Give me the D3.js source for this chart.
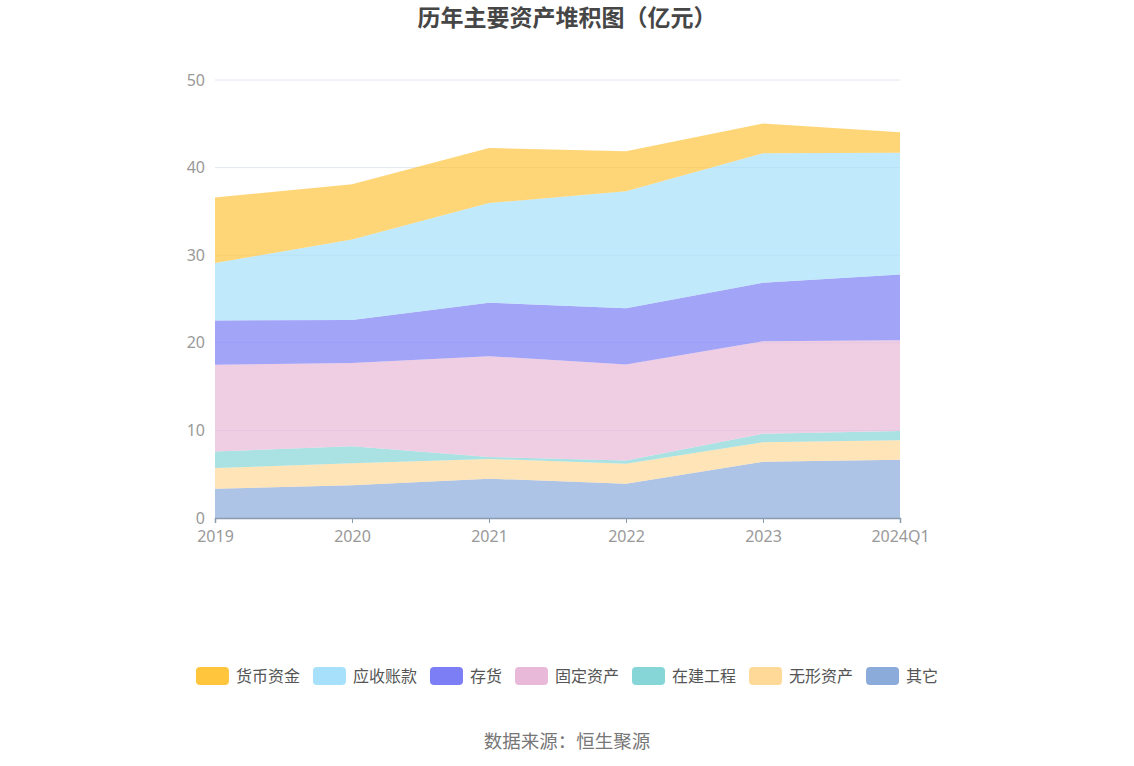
<!DOCTYPE html>
<html>
<head>
<meta charset="utf-8">
<script src="https://cdn.jsdelivr.net/npm/d3@7"></script>
<style>
  html, body { margin: 0; padding: 0; background: #fff; }
  svg { font-family: "Noto Sans CJK SC", "Noto Sans", sans-serif; }
</style>
</head>
<body>
<div id="chart"></div>
<script>
// categories on the x axis
const years = ["2019", "2020", "2021", "2022", "2023", "2024Q1"];

// series values (亿元), bottom of the stack first
const qita = [3.35, 3.73, 4.49, 3.92, 6.43, 6.66];        // 其它
const wuxing = [2.35, 2.51, 2.25, 2.28, 2.21, 2.21];      // 无形资产
const zaijian = [1.88, 1.95, 0.23, 0.35, 0.99, 1.07];     // 在建工程
const guding = [9.92, 9.51, 11.5, 10.97, 10.55, 10.36];   // 固定资产
const cunhuo = [5.05, 4.9, 6.1, 6.43, 6.68, 7.5];         // 存货
const yingshou = [6.55, 9.2, 11.38, 13.35, 14.77, 13.9];  // 应收账款
const huobi = [7.5, 6.3, 6.29, 4.56, 3.4, 2.33];          // 货币资金

const yTicks = [0, 10, 20, 30, 40, 50];

// legend order (top to bottom of the stack)
const series = [
  {key: "huobi", name: "货币资金", color: "#ffc53d", values: huobi},
  {key: "yingshou", name: "应收账款", color: "#a6e0fb", values: yingshou},
  {key: "cunhuo", name: "存货", color: "#7b7ef5", values: cunhuo},
  {key: "guding", name: "固定资产", color: "#e8b9d9", values: guding},
  {key: "zaijian", name: "在建工程", color: "#86d6d8", values: zaijian},
  {key: "wuxing", name: "无形资产", color: "#ffd998", values: wuxing},
  {key: "qita", name: "其它", color: "#8babdb", values: qita}
];

const width = 1134;
const height = 766;
const plotLeft = 215, plotRight = 900, plotTop = 80, plotBottom = 518;

const rows = years.map((yr, i) => {
  const r = {year: yr};
  series.forEach(s => { r[s.key] = s.values[i]; });
  return r;
});

const svg = d3.select("#chart")
  .append("svg")
  .attr("width", width)
  .attr("height", height);

const x = d3.scalePoint()
  .domain(years)
  .range([plotLeft, plotRight]);

const y = d3.scaleLinear()
  .domain([0, 50])
  .range([plotBottom, plotTop]);

// title
svg.append("text")
  .attr("x", width / 2)
  .attr("y", 26)
  .attr("text-anchor", "middle")
  .attr("font-size", 23)
  .attr("font-weight", "bold")
  .attr("fill", "#464646")
  .text("历年主要资产堆积图（亿元）");

// gridlines
svg.append("g")
  .selectAll("line")
  .data(yTicks.filter(d => d > 0))
  .enter()
  .append("line")
  .attr("x1", plotLeft)
  .attr("x2", plotRight)
  .attr("y1", d => y(d))
  .attr("y2", d => y(d))
  .attr("stroke", "#e0e6f1")
  .attr("stroke-width", 1);

// stacked areas
const stackOrder = series.map(s => s.key).reverse();
const stacked = d3.stack().keys(stackOrder)(rows);
const colorOf = {};
series.forEach(s => { colorOf[s.key] = s.color; });

const area = d3.area()
  .x(d => x(d.data.year))
  .y0(d => y(d[0]))
  .y1(d => y(d[1]));

svg.append("g")
  .selectAll("path")
  .data(stacked)
  .enter()
  .append("path")
  .attr("d", area)
  .attr("fill", d => colorOf[d.key])
  .attr("fill-opacity", 0.7);

// y axis labels
const yAxis = svg.append("g")
  .attr("transform", `translate(${plotLeft},0)`)
  .call(d3.axisLeft(y).tickValues(yTicks).tickSize(0).tickPadding(10));
yAxis.select(".domain").remove();
yAxis.selectAll("text")
  .attr("font-size", 16)
  .attr("fill", "#999")
  .attr("font-family", "\"Noto Sans\", sans-serif");

// x axis
const xAxis = svg.append("g")
  .attr("transform", `translate(0,${plotBottom})`)
  .call(d3.axisBottom(x).tickSize(5).tickPadding(8));
xAxis.select(".domain")
  .attr("stroke", "#8a9bb0")
  .attr("stroke-width", 1.5);
xAxis.selectAll("line").attr("stroke", "#8a9bb0");
xAxis.selectAll("text")
  .attr("font-size", 16)
  .attr("fill", "#999")
  .attr("font-family", "\"Noto Sans\", sans-serif");

// legend
const legend = svg.append("g");
let cx = 0;
series.forEach(s => {
  const g = legend.append("g").attr("transform", `translate(${cx},0)`);
  g.append("rect")
    .attr("width", 33)
    .attr("height", 18)
    .attr("rx", 4)
    .attr("fill", s.color);
  const t = g.append("text")
    .attr("x", 40)
    .attr("y", 15)
    .attr("font-size", 16)
    .attr("fill", "#555")
    .text(s.name);
  cx += 40 + t.node().getComputedTextLength() + 13;
});
const legendWidth = cx - 13;
legend.attr("transform", `translate(${(width - legendWidth) / 2},667)`);

// source
svg.append("text")
  .attr("x", width / 2)
  .attr("y", 748)
  .attr("text-anchor", "middle")
  .attr("font-size", 18.5)
  .attr("fill", "#777")
  .text("数据来源：恒生聚源");
</script>
</body>
</html>
